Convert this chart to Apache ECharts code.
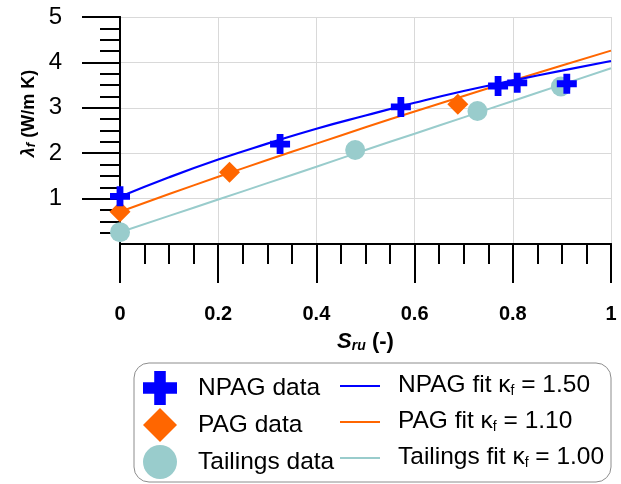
<!DOCTYPE html>
<html lang="en">
<head>
    <meta charset="utf-8">
    <title>Thermal conductivity vs saturation</title>
    <script src="https://cdn.jsdelivr.net/npm/echarts@6/dist/echarts.min.js"></script>
    <style>
        html, body { margin: 0; padding: 0; background: #fff; }
    </style>
</head>
<body>
<div id="main" style="width:621px;height:484px;"></div>

<script type="text/javascript">
    // measured points (S_ru, lambda_f)
    var npagData = [[0, 1.05], [0.326, 2.2], [0.572, 3.02], [0.77, 3.48], [0.809, 3.55], [0.91, 3.53]];
    var pagData = [[0, 0.71], [0.223, 1.58], [0.688, 3.08]];
    var tailingsData = [[0, 0.26], [0.479, 2.07], [0.728, 2.93], [0.898, 3.47]];

    // fitted curves
    var fitS = [0, 0.1, 0.2, 0.3, 0.4, 0.5, 0.6, 0.7, 0.8, 0.9, 1.0];
    var npagFit = [1.04, 1.47, 1.86, 2.21, 2.54, 2.83, 3.11, 3.37, 3.60, 3.82, 4.03];
    var pagFit = [0.71, 1.10, 1.48, 1.85, 2.21, 2.57, 2.92, 3.26, 3.60, 3.93, 4.26];
    var tailingsFit = [0.26, 0.62, 0.98, 1.34, 1.70, 2.07, 2.43, 2.79, 3.15, 3.51, 3.87];

    var fitLabels = {'NPAG fit': '1.50', 'PAG fit': '1.10', 'Tailings fit': '1.00'};

    var crossPath = 'path://M33,0H67V33H100V67H67V100H33V67H0V33H33Z';

    function pairs(xs, ys) {
        return xs.map(function (x, i) { return [x, ys[i]]; });
    }

    var myChart = echarts.init(document.getElementById('main'));

    var font = 'Arial, "Liberation Sans", sans-serif';

    myChart.setOption({
        animation: false,
        textStyle: { fontFamily: font, color: '#000' },
        grid: { left: 120, right: 10, top: 17, bottom: 240 },
        graphic: [{
            type: 'rect',
            shape: { x: 134, y: 363, width: 477, height: 119, r: 15 },
            style: { fill: '#fff', stroke: '#8c8c8c', lineWidth: 1 },
            z: 0
        }],
        legend: [{
            left: 143, top: 371, padding: 0,
            orient: 'vertical',
            itemWidth: 34, itemHeight: 34, itemGap: 3,
            textStyle: { fontSize: 24.5, color: '#000', padding: [0, 0, 0, 16] },
            data: ['NPAG data', 'PAG data', 'Tailings data']
        }, {
            left: 340, top: 373, padding: 0,
            orient: 'vertical',
            itemWidth: 40, itemHeight: 2, itemGap: 11,
            textStyle: {
                fontSize: 24.5, color: '#000', padding: [0, 0, 0, 13],
                rich: {
                    a: { fontSize: 24.5, lineHeight: 24, verticalAlign: 'bottom' },
                    s: { fontSize: 14, lineHeight: 10, verticalAlign: 'bottom' }
                }
            },
            formatter: function (name) {
                return '{a|' + name + ' κ}{s|f}{a| = ' + fitLabels[name] + '}';
            },
            data: [
                { name: 'NPAG fit', icon: 'rect' },
                { name: 'PAG fit', icon: 'rect' },
                { name: 'Tailings fit', icon: 'rect' }
            ]
        }],
        xAxis: [{
            type: 'value', min: 0, max: 1, interval: 0.2,
            name: '{i|S}{s|ru}{n| (-)}',
            nameLocation: 'middle', nameGap: 85,
            nameTextStyle: {
                rich: {
                    i: { fontSize: 22, fontWeight: 'bold', fontStyle: 'italic', lineHeight: 24, verticalAlign: 'bottom' },
                    s: { fontSize: 14, fontWeight: 'bold', fontStyle: 'italic', lineHeight: 10, verticalAlign: 'bottom' },
                    n: { fontSize: 22, fontWeight: 'bold', lineHeight: 24, verticalAlign: 'bottom' }
                }
            },
            axisLine: { show: true, onZero: false, lineStyle: { color: '#000', width: 2 } },
            axisTick: { show: true, inside: false, length: 39, lineStyle: { color: '#000', width: 2 } },
            minorTick: { show: true, splitNumber: 4, length: 20, lineStyle: { color: '#000', width: 2 } },
            axisLabel: { fontSize: 20, fontWeight: 'bold', color: '#000', margin: 60 },
            splitLine: { show: true, lineStyle: { color: '#d9d9d9', width: 1 } }
        }, {
            type: 'value', min: 0, max: 1, position: 'top',
            axisLine: { show: true, lineStyle: { color: '#000', width: 2 } },
            axisTick: { show: false }, axisLabel: { show: false }, splitLine: { show: false }
        }],
        yAxis: [{
            type: 'value', min: 0, max: 5, interval: 1,
            name: '{l|λ}{s|f}{n| (W/m K)}',
            nameLocation: 'middle', nameGap: 78,
            nameTextStyle: {
                padding: [0, 0, 0, 34],
                rich: {
                    l: { fontSize: 18, fontWeight: 'bold', fontStyle: 'italic', lineHeight: 22, verticalAlign: 'bottom' },
                    s: { fontSize: 13, fontWeight: 'bold', fontStyle: 'italic', lineHeight: 9, verticalAlign: 'bottom' },
                    n: { fontSize: 18, fontWeight: 'bold', lineHeight: 22, verticalAlign: 'bottom' }
                }
            },
            axisLine: { show: true, onZero: false, lineStyle: { color: '#000', width: 2 } },
            axisTick: { show: true, inside: false, length: 38, customValues: [1, 2, 3, 4, 5], lineStyle: { color: '#000', width: 2 } },
            minorTick: { show: true, splitNumber: 4, length: 20, lineStyle: { color: '#000', width: 2 } },
            axisLabel: {
                fontSize: 24, color: '#000', margin: 58,
                formatter: function (v) { return v === 0 ? '' : v; }
            },
            splitLine: { show: true, lineStyle: { color: '#d9d9d9', width: 1 } }
        }, {
            type: 'value', min: 0, max: 5, position: 'right',
            axisLine: { show: true, lineStyle: { color: '#000', width: 2 } },
            axisTick: { show: false }, axisLabel: { show: false }, splitLine: { show: false }
        }],
        series: [{
            name: 'Tailings fit', type: 'line', showSymbol: false, symbol: 'none', smooth: true,
            color: '#99cccc', lineStyle: { width: 2 }, data: pairs(fitS, tailingsFit), z: 2
        }, {
            name: 'PAG fit', type: 'line', showSymbol: false, symbol: 'none', smooth: true,
            color: '#ff6600', lineStyle: { width: 2 }, data: pairs(fitS, pagFit), z: 2
        }, {
            name: 'NPAG fit', type: 'line', showSymbol: false, symbol: 'none', smooth: true,
            color: '#0000ff', lineStyle: { width: 2.2 }, data: pairs(fitS, npagFit), z: 2
        }, {
            name: 'Tailings data', type: 'scatter', symbol: 'circle', symbolSize: 20,
            color: '#99cccc', itemStyle: { opacity: 1 }, data: tailingsData, z: 3
        }, {
            name: 'PAG data', type: 'scatter', symbol: 'diamond', symbolSize: 21,
            color: '#ff6600', itemStyle: { opacity: 1 }, data: pagData, z: 3
        }, {
            name: 'NPAG data', type: 'scatter', symbol: crossPath, symbolSize: 20,
            color: '#0000ff', itemStyle: { opacity: 1 }, data: npagData, z: 4
        }]
    });
</script>
</body>
</html>
